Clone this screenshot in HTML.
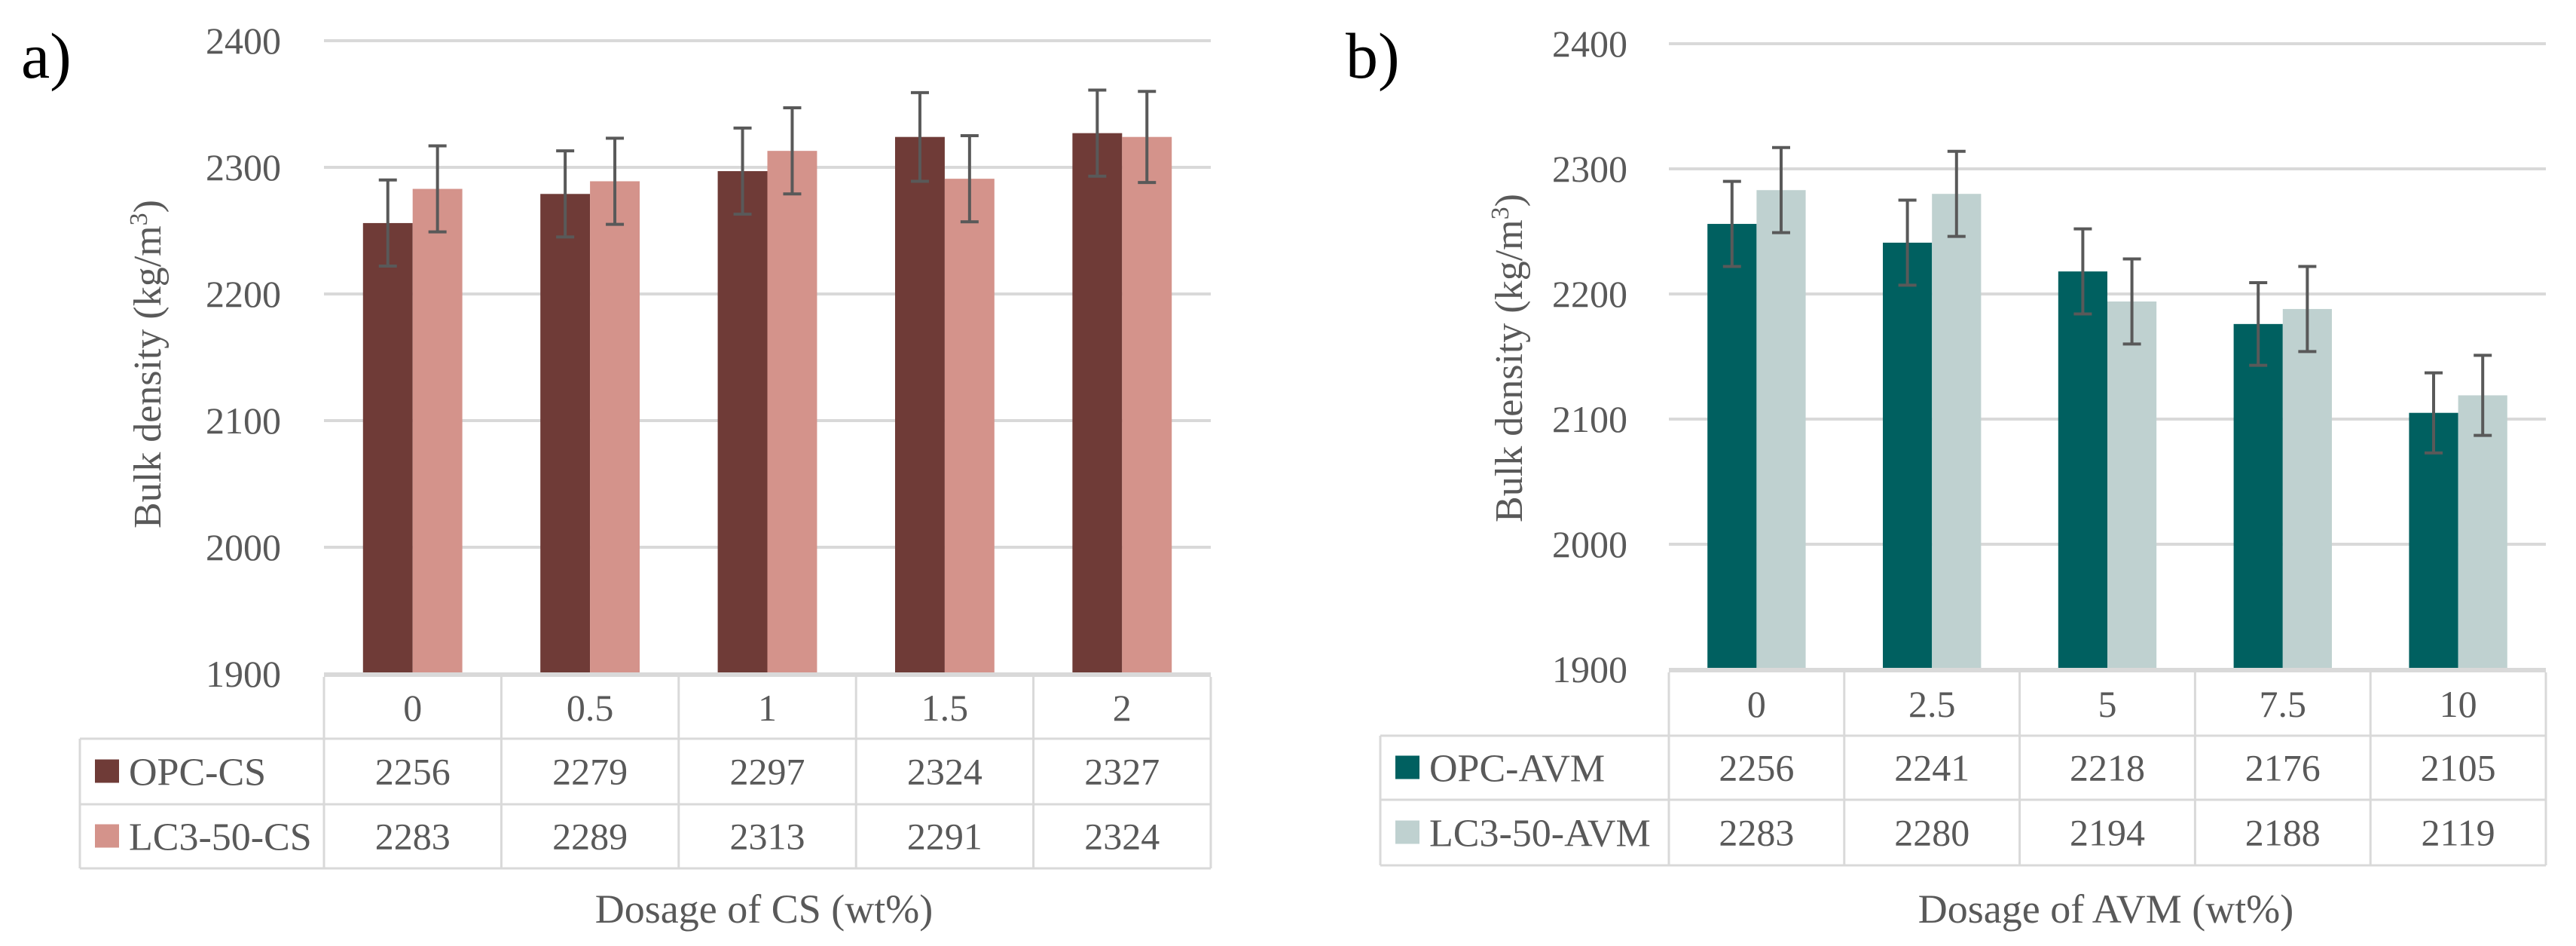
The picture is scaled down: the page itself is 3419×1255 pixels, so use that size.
<!DOCTYPE html>
<html><head><meta charset="utf-8"><style>
html,body{margin:0;padding:0;background:#fff}
svg{display:block}
svg, text{font-family:"Liberation Serif","DejaVu Serif",serif}
text{fill:#595959}
</style></head><body>
<svg id="fig" width="3419" height="1255" viewBox="0 0 3419 1255" xmlns="http://www.w3.org/2000/svg" font-family="Liberation Serif, DejaVu Serif, serif">
<g id="chartA"></g>
<g id="chartB"></g>
</svg>
<script>
const catsA = ["0","0.5","1","1.5","2"];
const opcCS = [2256,2279,2297,2324,2327];
const lc3CS = [2283,2289,2313,2291,2324];
const errOpcCS = [34,34,34,35,34];
const errLc3CS = [34,34,34,34,36];
const catsB = ["0","2.5","5","7.5","10"];
const opcAVM = [2256,2241,2218,2176,2105];
const lc3AVM = [2283,2280,2194,2188,2119];
const errOpcAVM = [34,34,34,33,32];
const errLc3AVM = [34,34,34,34,32];
const yTicks = [1900,2000,2100,2200,2300,2400];

const NS="http://www.w3.org/2000/svg";
function mk(parent,tag,attrs,txt){const e=document.createElementNS(NS,tag);for(const k in attrs)e.setAttribute(k,attrs[k]);if(txt!==undefined)e.textContent=txt;parent.appendChild(e);return e;}

function chart(g,cfg){
  const yMin=1900,yMax=2400;
  const y=v=>cfg.yBot-(v-yMin)/(yMax-yMin)*(cfg.yBot-cfg.yTop);
  const colW=(cfg.xR-cfg.xL)/cfg.cats.length;
  const cx=i=>cfg.xL+colW*(i+0.5);
  const pl=mk(g,'text',{x:cfg.labelX,y:103,'font-size':86,style:'fill:#000'},cfg.label);
  
  
  yTicks.forEach(t=>{
    if(t>yMin){const l=mk(g,'line',{x1:cfg.xL,x2:cfg.xR,y1:y(t),y2:y(t),stroke:'#d9d9d9','stroke-width':4});
    
    }
    const tx=mk(g,'text',{x:cfg.tickX,y:y(t)+17,'text-anchor':'end','font-size':50},String(t));
    
    
  });
  const yt=mk(g,'text',{x:0,y:0,'font-size':52,'text-anchor':'middle',transform:`translate(${cfg.yTitleX},${cfg.yTitleY}) rotate(-90)`});
  
  
  yt.innerHTML='Bulk density (kg/m<tspan dy="-18" font-size="34">3</tspan><tspan dy="18">)</tspan>';
  const bw=colW*0.28;
  [[cfg.s1,cfg.c1,-1],[cfg.s2,cfg.c2,0]].forEach(([vals,col,off],si)=>{
    vals.forEach((v,i)=>{
      const x0=cx(i)+off*bw;
      const r=mk(g,'rect',{x:x0,y:y(v),width:bw,height:cfg.yBot-y(v),fill:col});
      
      
    });
  });
  [[cfg.s1,cfg.e1,-1],[cfg.s2,cfg.e2,0]].forEach(([vals,errs,off])=>{
    vals.forEach((v,i)=>{
      const xm=cx(i)+off*bw+bw/2;
      const eg=mk(g,'g',{stroke:'#595959','stroke-width':4});
      
      
      mk(eg,'line',{x1:xm,x2:xm,y1:y(v+errs[i]),y2:y(v-errs[i])});
      mk(eg,'line',{x1:xm-12,x2:xm+12,y1:y(v+errs[i]),y2:y(v+errs[i])});
      mk(eg,'line',{x1:xm-12,x2:xm+12,y1:y(v-errs[i]),y2:y(v-errs[i])});
    });
  });
  const ax=mk(g,'line',{x1:cfg.xL,x2:cfg.xR,y1:cfg.yBot+1,y2:cfg.yBot+1,stroke:'#d9d9d9','stroke-width':6});
  
  
  const tb=mk(g,'g',{stroke:'#d9d9d9','stroke-width':3,fill:'none'});
  
  
  const r1=cfg.rows[0],r2=cfg.rows[1],r3=cfg.rows[2],r0=cfg.yBot+4;
  for(let i=0;i<=cfg.cats.length;i++){const x=cfg.xL+colW*i;mk(tb,'line',{x1:x,x2:x,y1:r0,y2:r3});}
  mk(tb,'line',{x1:cfg.tL,x2:cfg.tL,y1:r1,y2:r3});
  [r1,r2,r3].forEach(yy=>mk(tb,'line',{x1:cfg.tL,x2:cfg.xR,y1:yy,y2:yy}));
  cfg.cats.forEach((c,i)=>{
    const t=mk(g,'text',{x:cx(i),y:(r0+r1)/2+17,'text-anchor':'middle','font-size':50},c);
    
    
    const a=mk(g,'text',{x:cx(i),y:(r1+r2)/2+17,'text-anchor':'middle','font-size':50},String(cfg.s1[i]));
    
    
    const b=mk(g,'text',{x:cx(i),y:(r2+r3)/2+17,'text-anchor':'middle','font-size':50},String(cfg.s2[i]));
    
    
  });
  [[cfg.n1,cfg.c1,r1,r2],[cfg.n2,cfg.c2,r2,r3]].forEach(([n,col,ya,yb])=>{
    const lg=mk(g,'g',{});
    
    
    const m=(ya+yb)/2;
    mk(lg,'rect',{x:cfg.tL+20,y:m-16,width:32,height:31,fill:col});
    mk(lg,'text',{x:cfg.tL+65,y:m+18,'font-size':52},n);
  });
  const xt=mk(g,'text',{x:cfg.xTitleX,y:1224,'text-anchor':'middle','font-size':54},cfg.xTitle);
  
  
}
chart(document.getElementById('chartA'),{label:'a)',labelX:28,xL:430,xR:1607,yTop:54,yBot:894,tickX:373,tL:106,
  rows:[980,1067,1152],cats:catsA,s1:opcCS,s2:lc3CS,e1:errOpcCS,e2:errLc3CS,c1:'#6f3b37',c2:'#d4938b',
  n1:'OPC-CS',n2:'LC3-50-CS',xTitle:'Dosage of CS (wt%)',xTitleX:1014,yTitleX:213,yTitleY:483});
chart(document.getElementById('chartB'),{label:'b)',labelX:1786,xL:2215,xR:3379,yTop:58,yBot:888,tickX:2160,tL:1832,
  rows:[976,1061,1148],cats:catsB,s1:opcAVM,s2:lc3AVM,e1:errOpcAVM,e2:errLc3AVM,c1:'#006060',c2:'#bfd1d0',
  n1:'OPC-AVM',n2:'LC3-50-AVM',xTitle:'Dosage of AVM (wt%)',xTitleX:2795,yTitleX:2020,yTitleY:475});
</script>
</body></html>
